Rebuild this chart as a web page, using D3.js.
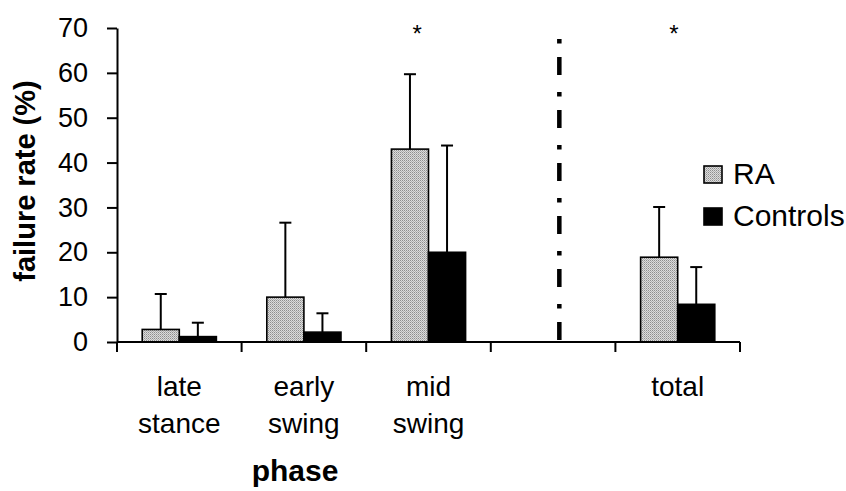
<!DOCTYPE html>
<html>
<head>
<meta charset="utf-8">
<script src="https://cdn.jsdelivr.net/npm/d3@7"></script>
<style>
  html, body { margin: 0; padding: 0; background: #fff; }
  svg { display: block; }
  text { font-family: "Liberation Sans", Arial, Helvetica, sans-serif; fill: #000; }
</style>
</head>
<body>
<svg id="chart" width="846" height="491"></svg>
<script>
// ---- data ----
const categories = ["late\nstance", "early\nswing", "mid\nswing", "", "total"];
const seriesNames = ["RA", "Controls"];
const raValues = [2.8, 10.0, 43.0, null, 18.9];
const raErrors = [7.9, 16.6, 16.7, null, 11.2];
const controlValues = [1.2, 2.2, 20.0, null, 8.4];
const controlErrors = [3.1, 4.2, 23.8, null, 8.3];
const yTicks = [0, 10, 20, 30, 40, 50, 60, 70];
const significance = [{ pos: 2.41, value: 70.3, label: "*" }, { pos: 4.47, value: 70.3, label: "*" }];
const separatorPos = 3.55; // in category units
const yLabel = "failure rate (%)";
const xLabel = "phase";

// ---- layout ----
const svg = d3.select("#chart");
const mLeft = 117, mRight = 740, mTop = 28, mBottom = 342;

const x = d3.scaleBand().domain(categories).range([mLeft, mRight]).padding(0);
const xi = d3.scaleLinear().domain([0, categories.length]).range([mLeft, mRight]);
const xSub = d3.scaleBand().domain(seriesNames).range([0, x.bandwidth()]).paddingInner(0).paddingOuter(0.68);
const y = d3.scaleLinear().domain([0, 70]).range([mBottom, mTop]);

// fine stipple pattern for RA
const defs = svg.append("defs");
const pat = defs.append("pattern").attr("id", "hatch").attr("patternUnits", "userSpaceOnUse")
  .attr("width", 2).attr("height", 2);
pat.append("rect").attr("width", 2).attr("height", 2).attr("fill", "#dcdcdc");
pat.append("rect").attr("x", 0).attr("y", 0).attr("width", 1).attr("height", 1).attr("fill", "#8e8e8e");
pat.append("rect").attr("x", 1).attr("y", 1).attr("width", 1).attr("height", 1).attr("fill", "#b0b0b0");

const fills = { RA: "url(#hatch)", Controls: "#000" };

const rows = [];
categories.forEach((c, i) => {
  rows.push({ cat: c, s: "RA", v: raValues[i], e: raErrors[i] });
  rows.push({ cat: c, s: "Controls", v: controlValues[i], e: controlErrors[i] });
});
const valid = rows.filter(d => d.v != null);

// error bars (behind bars)
const eb = svg.append("g").attr("stroke", "#000").attr("stroke-width", 2);
valid.forEach(d => {
  const cx = x(d.cat) + xSub(d.s) + xSub.bandwidth() / 2;
  eb.append("line").attr("x1", cx).attr("x2", cx).attr("y1", y(d.v)).attr("y2", y(d.v + d.e));
  eb.append("line").attr("x1", cx - 6).attr("x2", cx + 6).attr("y1", y(d.v + d.e)).attr("y2", y(d.v + d.e));
});

// bars
svg.append("g").selectAll("rect").data(valid).join("rect")
  .attr("x", d => x(d.cat) + xSub(d.s))
  .attr("y", d => y(d.v))
  .attr("width", xSub.bandwidth())
  .attr("height", d => y(0) - y(d.v))
  .attr("fill", d => fills[d.s])
  .attr("stroke", "#000").attr("stroke-width", 1.6);

// y axis
const yAxis = svg.append("g").attr("transform", `translate(${mLeft},0)`)
  .call(d3.axisLeft(y).tickValues(yTicks).tickSize(10).tickPadding(19).tickSizeOuter(0));
yAxis.select(".domain").attr("stroke-width", 2);
yAxis.selectAll(".tick line").attr("stroke-width", 2);
yAxis.selectAll(".tick text").attr("font-size", 27).attr("font-family", "Liberation Sans, Arial, sans-serif").attr("fill", "#000");

// x axis
const xg = svg.append("g");
xg.append("line").attr("x1", mLeft).attr("x2", mRight).attr("y1", y(0)).attr("y2", y(0))
  .attr("stroke", "#000").attr("stroke-width", 2);
const bounds = d3.range(categories.length + 1).map(i => xi(i));
xg.selectAll("line.tk").data(bounds).join("line").attr("class", "tk")
  .attr("x1", d => d).attr("x2", d => d).attr("y1", y(0)).attr("y2", y(0) + 10)
  .attr("stroke", "#000").attr("stroke-width", 2);

// category labels
const cl = svg.append("g").attr("font-size", 28).attr("text-anchor", "middle");
categories.forEach(c => {
  const t = cl.append("text").attr("x", x(c) + x.bandwidth() / 2).attr("y", 396);
  c.split("\n").forEach((line, k) => {
    t.append("tspan").attr("x", x(c) + x.bandwidth() / 2).attr("dy", k === 0 ? 0 : 37).text(line);
  });
});

// separator
svg.append("line").attr("x1", xi(separatorPos)).attr("x2", xi(separatorPos))
  .attr("y1", 39).attr("y2", y(0))
  .attr("stroke", "#000").attr("stroke-width", 4.5)
  .attr("stroke-dasharray", "4.5,13.5,18,17");

// significance
svg.append("g").selectAll("text").data(significance).join("text")
  .attr("x", d => xi(d.pos)).attr("y", d => y(d.value) + 15)
  .attr("text-anchor", "middle").attr("font-size", 24).attr("fill", "#444")
  .text(d => d.label);

// axis titles
svg.append("text").attr("transform", `translate(35,181) rotate(-90)`)
  .attr("text-anchor", "middle").attr("font-weight", "bold").attr("font-size", 29).text(yLabel);
svg.append("text").attr("x", 295).attr("y", 481)
  .attr("text-anchor", "middle").attr("font-weight", "bold").attr("font-size", 30).text(xLabel);

// legend
const lg = svg.append("g").attr("transform", "translate(704,166)");
seriesNames.forEach((s, i) => {
  const g = lg.append("g").attr("transform", `translate(0,${i * 42})`);
  g.append("rect").attr("width", 18).attr("height", 17).attr("fill", fills[s])
    .attr("stroke", "#000").attr("stroke-width", 1.6);
  g.append("text").attr("x", 29).attr("y", 18).attr("font-size", 30).text(s);
});
</script>
</body>
</html>
